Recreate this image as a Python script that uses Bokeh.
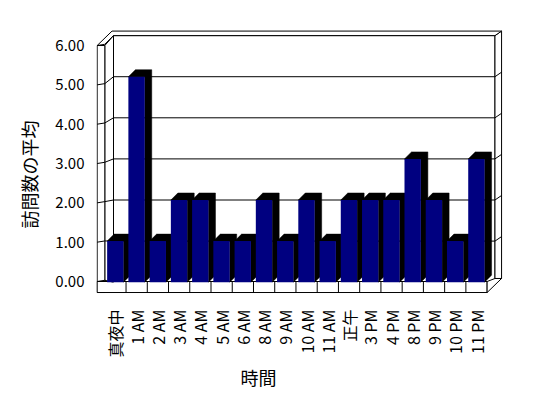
import math
from bokeh.plotting import figure
from bokeh.models import Range1d, LinearAxis, FixedTicker, PrintfTickFormatter, Title
from bokeh.embed import file_html
from bokeh.resources import INLINE

# ---- data ----
categories = ["真夜中", "1 AM", "2 AM", "3 AM", "4 AM", "5 AM", "6 AM", "8 AM", "9 AM",
              "10 AM", "11 AM", "正午", "3 PM", "4 PM", "8 PM", "9 PM", "10 PM", "11 PM"]
values = [1, 5, 1, 2, 2, 1, 1, 2, 1, 2, 1, 2, 2, 2, 3, 2, 1, 3]
y_ticks = [0, 1, 2, 3, 4, 5, 6]
y_title = "訪問数の平均"
x_title = "時間"

n = len(categories)
FONT = "Noto Sans CJK JP"
NAVY = "#000080"

# ---- scales ----
X_RANGE = (-0.391, n + 0.771)
BACK = (-0.275, 6.173)    # value scale of the bars / back wall
FRONT = (-0.305, 6.433)   # value scale of the wall's front edge (axis labels)


def f2b(v):
    return BACK[0] + (v - FRONT[0]) / (FRONT[1] - FRONT[0]) * (BACK[1] - BACK[0])


# 3-D furniture (in data units)
WALL_OUT = -0.36      # left wall front face, outer edge
WALL_IN = 0.0         # left wall front face, inner edge
WALL_BACK = 0.41      # back wall, left edge
R_IN = n + 0.37       # back wall, right edge
R_OUT = n + 0.68      # back wall thickness
TOP = y_ticks[-1]
STRIP = 0.11
FLOOR_F = -0.28       # floor thickness (front units)
R_BOT = 0.09
BAR_L, BAR_R = 0.11, 0.88
BAR_DX, BAR_DY = 0.33, 0.17

p = figure(width=548, height=398, x_range=Range1d(*X_RANGE), y_range=Range1d(*BACK),
           output_backend="svg", toolbar_location=None,
           x_axis_type=None, y_axis_type=None,
           min_border_left=96, min_border_right=45, min_border_top=28, min_border_bottom=105)
p.extra_y_ranges = {"front": Range1d(*FRONT)}
p.outline_line_color = None
p.background_fill_color = "white"
p.border_fill_color = "white"

wall = dict(fill_color="white", line_color="black", line_width=1)

# back wall inner face
p.patches(xs=[[WALL_BACK, R_IN, R_IN, WALL_BACK]], ys=[[0, 0, TOP, TOP]], **wall)
# back wall right side face
p.patches(xs=[[R_IN, R_OUT, R_OUT, R_IN]], ys=[[R_BOT, R_BOT, TOP + STRIP, TOP]], **wall)
# top surfaces (left wall top + back wall top strip)
p.patches(xs=[[WALL_OUT, WALL_IN, WALL_BACK, R_IN, R_OUT, WALL_BACK - 0.07]],
          ys=[[f2b(TOP), f2b(TOP), TOP, TOP, TOP + STRIP, TOP + STRIP]], **wall)
# left wall inner face
p.patches(xs=[[WALL_IN, WALL_BACK, WALL_BACK, WALL_IN]],
          ys=[[f2b(0), 0, TOP, f2b(TOP)]], **wall)
# left wall front face
p.patches(xs=[[WALL_OUT, WALL_IN, WALL_IN, WALL_OUT]], ys=[[FLOOR_F, FLOOR_F, TOP, TOP]],
          y_range_name="front", **wall)
# floor front face
p.patches(xs=[[WALL_OUT, n, n, WALL_OUT]], ys=[[FLOOR_F, FLOOR_F, 0, 0]],
          y_range_name="front", **wall)
# floor right end
p.patches(xs=[[n, R_IN, R_OUT, n]], ys=[[f2b(0), R_BOT, R_BOT, f2b(FLOOR_F)]], **wall)
# floor category dividers
p.segment(x0=list(range(1, n)), x1=list(range(1, n)), y0=[0] * (n - 1), y1=[FLOOR_F] * (n - 1),
          y_range_name="front", line_color="black", line_width=1)

# gridlines on back wall + its side, ticks across the left wall
grid_xs, grid_ys = [], []
for v in y_ticks:
    if 0 < v < TOP:
        grid_xs.append([WALL_BACK, R_IN, R_OUT])
        grid_ys.append([v, v, v + STRIP])
    grid_xs.append([WALL_OUT, WALL_IN, WALL_BACK])
    grid_ys.append([f2b(v), f2b(v) + 0.03, v])
p.multi_line(xs=grid_xs, ys=grid_ys, line_color="black", line_width=1)

# bars: black top + side, then navy front face
bx, by = [], []
for i, v in enumerate(values):
    l, r = i + BAR_L, i + BAR_R
    bx.append([l, l + BAR_DX, r + BAR_DX, r + BAR_DX, r, r])
    by.append([v, v + BAR_DY, v + BAR_DY, BAR_DY, 0, v])
p.patches(xs=bx, ys=by, fill_color="black", line_color="black", line_width=0.5)
p.quad(left=[i + BAR_L for i in range(n)], right=[i + BAR_R for i in range(n)],
       bottom=0, top=values, fill_color=NAVY, line_color=None)

# axes
yaxis = LinearAxis(y_range_name="front", ticker=FixedTicker(ticks=y_ticks),
                   formatter=PrintfTickFormatter(format="%.2f"),
                   axis_line_color=None, major_tick_line_color=None, minor_tick_line_color=None,
                   major_tick_in=0, major_tick_out=0, major_label_standoff=12,
                   major_label_text_font=FONT, major_label_text_font_size="15px",
                   major_label_text_color="black")
p.add_layout(yaxis, "left")

xaxis = LinearAxis(ticker=FixedTicker(ticks=[i + 0.5 for i in range(n)]),
                   major_label_overrides={i + 0.5: c for i, c in enumerate(categories)},
                   major_label_orientation=math.pi / 2,
                   axis_line_color=None, major_tick_line_color=None, minor_tick_line_color=None,
                   major_tick_in=0, major_tick_out=0, major_label_standoff=16,
                   major_label_text_font=FONT, major_label_text_font_size="16px",
                   major_label_text_color="black")
p.add_layout(xaxis, "below")

p.add_layout(Title(text=y_title, align="left", offset=65, standoff=22, text_font=FONT,
                   text_font_size="18px", text_font_style="normal", text_color="black"), "left")
p.add_layout(Title(text=x_title, align="left", offset=144, standoff=3, text_font=FONT,
                   text_font_size="18px", text_font_style="normal", text_color="black"), "below")

open("out.html", "w").write(file_html(p, INLINE))
